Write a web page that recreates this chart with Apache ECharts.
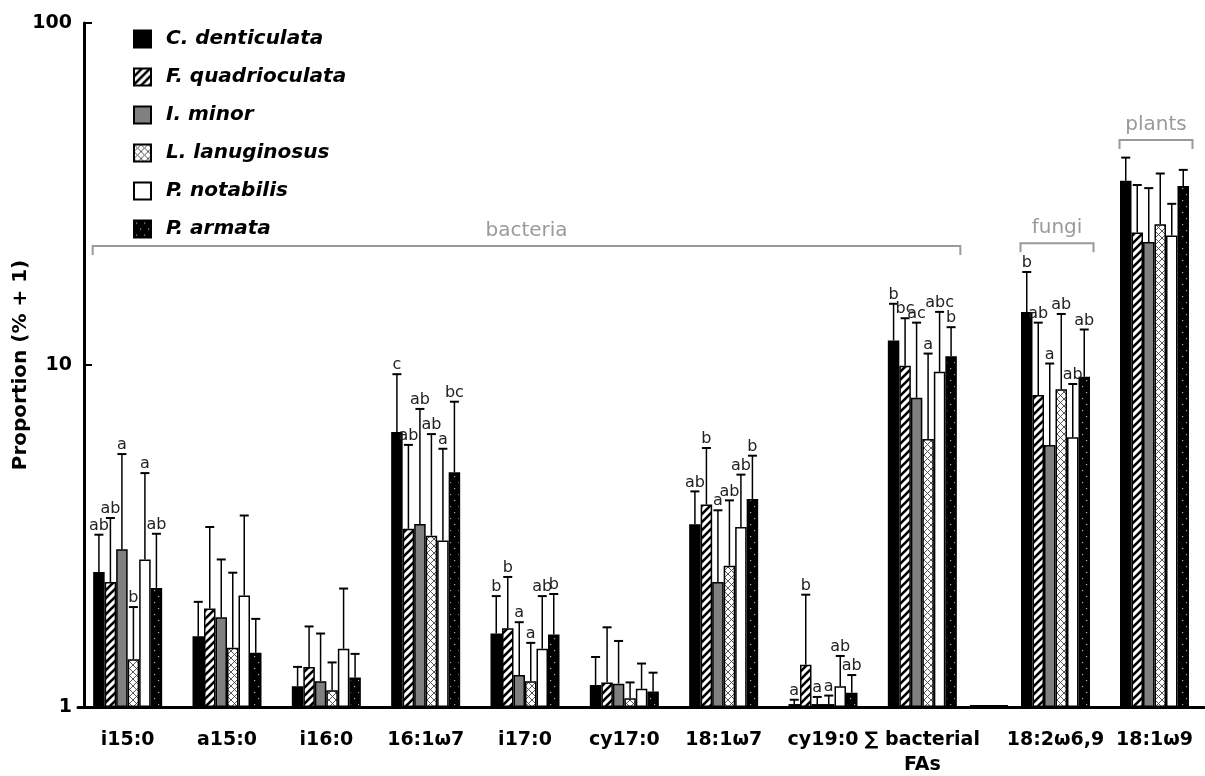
<!DOCTYPE html>
<html>
<head>
<meta charset="utf-8">
<script src="https://cdn.jsdelivr.net/npm/echarts@6/dist/echarts.min.js"></script>
<style>html,body{margin:0;padding:0;background:#fff}#c{width:1205px;height:776px}</style>
</head>
<body>
<div id="c"></div>
<script>
// ---------------- data ----------------
const speciesNames = ['C. denticulata','F. quadrioculata','I. minor','L. lanuginosus','P. notabilis','P. armata'];
const categoriesBacteria = ['i15:0','a15:0','i16:0','16:1ω7','i17:0','cy17:0','18:1ω7','cy19:0','∑ bacterial\nFAs'];
const categoriesOther = ['18:2ω6,9','18:1ω9'];
const yTickLabels = ['1','10','100'];

// mean proportion (% + 1), one list per species, categories in order (9 bacterial + fungi + plants)
const meanCden = [2.48, 1.61, 1.15, 6.37, 1.64, 1.16, 3.42, 1.02, 11.8, 14.3, 34.6];
const meanFqua = [2.32, 1.94, 1.31, 3.32, 1.70, 1.18, 3.91, 1.33, 9.95, 8.17, 24.4];
const meanImin = [2.89, 1.83, 1.19, 3.43, 1.24, 1.17, 2.32, 1.02, 8.02, 5.84, 22.9];
const meanLlan = [1.38, 1.49, 1.12, 3.17, 1.19, 1.06, 2.59, 1.02, 6.08, 8.49, 25.8];
const meanPnot = [2.70, 2.12, 1.48, 3.07, 1.48, 1.13, 3.36, 1.15, 9.55, 6.15, 23.9];
const meanParm = [2.23, 1.44, 1.22, 4.86, 1.63, 1.11, 4.06, 1.10, 10.6, 9.24, 33.4];

// upper end of error bars
const upperCden = [3.19, 2.03, 1.31, 9.40, 2.11, 1.40, 4.27, 1.05, 15.1, 18.7, 40.4];
const upperFqua = [3.57, 3.36, 1.72, 5.84, 2.40, 1.71, 5.72, 2.13, 13.7, 13.3, 33.6];
const upperImin = [5.49, 2.70, 1.64, 7.44, 1.77, 1.56, 3.76, 1.07, 13.3, 10.1, 32.9];
const upperLlan = [1.96, 2.47, 1.35, 6.28, 1.54, 1.18, 4.02, 1.08, 10.8, 14.1, 36.3];
const upperPnot = [4.83, 3.63, 2.22, 5.69, 2.11, 1.34, 4.78, 1.41, 14.3, 8.8, 29.6];
const upperParm = [3.21, 1.81, 1.43, 7.81, 2.14, 1.26, 5.43, 1.24, 12.9, 12.7, 37.2];

// significance letters
const lettersCden = ['ab','','','c','b','','ab','a','b','b',''];
const lettersFqua = ['ab','','','ab','b','','b','b','bc','ab',''];
const lettersImin = ['a','','','ab','a','','a','a','ac','a',''];
const lettersLlan = ['b','','','ab','a','','ab','a','a','ab',''];
const lettersPnot = ['a','','','a','ab','','ab','ab','abc','ab',''];
const lettersParm = ['ab','','','bc','b','','b','ab','b','ab',''];

// group brackets: label, first category, last category, level (y value of bracket)
const groupLabels = ['bacteria','fungi','plants'];
const groupFirst  = [0, 0, 1];
const groupLast   = [8, 0, 1];
const groupLevel  = [22.3, 22.7, 45.5];
const groupGrid   = [0, 1, 1];

// ---------------- styling ----------------
const means = [meanCden, meanFqua, meanImin, meanLlan, meanPnot, meanParm];
const uppers = [upperCden, upperFqua, upperImin, upperLlan, upperPnot, upperParm];
const letters = [lettersCden, lettersFqua, lettersImin, lettersLlan, lettersPnot, lettersParm];
const NB = categoriesBacteria.length;
const BAR_W = 11.5;
const FONT = '"DejaVu Sans", "Liberation Sans", sans-serif';

function makePattern(w, h, draw) {
  const c = document.createElement('canvas');
  c.width = w; c.height = h;
  const ctx = c.getContext('2d');
  draw(ctx, w, h);
  return { image: c, repeat: 'repeat' };
}
const hatch = makePattern(8, 8, (ctx, w, h) => {
  ctx.fillStyle = '#fff'; ctx.fillRect(0, 0, w, h);
  ctx.strokeStyle = '#000'; ctx.lineWidth = 2.6; ctx.lineCap = 'square';
  ctx.beginPath();
  ctx.moveTo(-2, 10); ctx.lineTo(10, -2);
  ctx.moveTo(-6, 6); ctx.lineTo(6, -6);
  ctx.moveTo(2, 14); ctx.lineTo(14, 2);
  ctx.stroke();
});
const cross = makePattern(7, 7, (ctx, w, h) => {
  ctx.fillStyle = '#fff'; ctx.fillRect(0, 0, w, h);
  ctx.strokeStyle = '#444'; ctx.lineWidth = 0.9;
  ctx.beginPath();
  ctx.moveTo(0, 0); ctx.lineTo(w, h);
  ctx.moveTo(w, 0); ctx.lineTo(0, h);
  ctx.stroke();
});
const dots = makePattern(8, 12, (ctx, w, h) => {
  ctx.fillStyle = '#000'; ctx.fillRect(0, 0, w, h);
  ctx.fillStyle = '#aaa';
  ctx.fillRect(2, 2, 1.2, 1.2);
  ctx.fillRect(6, 8, 1.2, 1.2);
});
const fills = ['#000', hatch, '#808080', cross, '#fff', dots];

// ---------------- layout constants ----------------
const TOP = 23, BOTTOM = 69, LEFT_A = 78, RIGHT_A = 972, LEFT_B = 1006, RIGHT_B = 1204;

// ---------------- series ----------------
const series = [];
speciesNames.forEach((name, s) => {
  const st = { color: fills[s], borderColor: '#000', borderWidth: 1.5 };
  series.push({ name, type: 'bar', xAxisIndex: 0, yAxisIndex: 0, barWidth: BAR_W, barGap: '0%',
    itemStyle: st, data: means[s].slice(0, NB), z: 2 });
  series.push({ name, type: 'bar', xAxisIndex: 1, yAxisIndex: 1, barWidth: BAR_W, barGap: '0%',
    itemStyle: st, data: means[s].slice(NB), z: 2 });
});

function errData(from, to) {
  const d = [];
  for (let c = from; c < to; c++)
    for (let s = 0; s < speciesNames.length; s++)
      d.push([c - from, s, means[s][c], uppers[s][c], c]);
  return d;
}
function errRender(params, api) {
  const c = api.value(0), s = api.value(1), m = api.value(2), u = api.value(3), gc = api.value(4);
  const top = api.coord([c, m]);
  const cap = api.coord([c, u]);
  const x = top[0] + (s - 2.5) * BAR_W;
  const children = [
    { type: 'line', shape: { x1: x, y1: top[1], x2: x, y2: cap[1] }, style: { stroke: '#000', lineWidth: 1.5 } },
    { type: 'line', shape: { x1: x - 4.5, y1: cap[1], x2: x + 4.5, y2: cap[1] }, style: { stroke: '#000', lineWidth: 2 } }
  ];
  const L = letters[s][gc];
  if (L) children.push({ type: 'text', style: { text: L, x: x, y: cap[1] - 1, align: 'center', verticalAlign: 'bottom',
    font: '16px ' + FONT, fill: '#222' } });
  return { type: 'group', children };
}
series.push({ type: 'custom', name: 'errA', xAxisIndex: 0, yAxisIndex: 0, z: 5, silent: true,
  renderItem: errRender, data: errData(0, NB), encode: { x: 0, y: 3 } });
series.push({ type: 'custom', name: 'errB', xAxisIndex: 1, yAxisIndex: 1, z: 5, silent: true,
  renderItem: errRender, data: errData(NB, NB + categoriesOther.length), encode: { x: 0, y: 3 } });

function brRender(params, api) {
  const g = api.value(3);
  const a = api.coord([api.value(0), api.value(2)]);
  const b = api.coord([api.value(1), api.value(2)]);
  const x1 = a[0] - 35, x2 = b[0] + 38, y = a[1];
  const children = [
    { type: 'polyline', shape: { points: [[x1, y + 9], [x1, y], [x2, y], [x2, y + 9]] },
      style: { stroke: '#9a9a9a', lineWidth: 2, fill: null } },
    { type: 'text', style: { text: groupLabels[g], x: (x1 + x2) / 2, y: y - 5, align: 'center', verticalAlign: 'bottom',
      font: '20px ' + FONT, fill: '#9a9a9a' } }
  ];
  return { type: 'group', children };
}
[0, 1].forEach(gi => {
  const d = [];
  groupLabels.forEach((lab, g) => { if (groupGrid[g] === gi) d.push([groupFirst[g], groupLast[g], groupLevel[g], g]); });
  series.push({ type: 'custom', name: 'br' + gi, xAxisIndex: gi, yAxisIndex: gi, z: 6, silent: true,
    renderItem: brRender, data: d, encode: { x: 0, y: 2 } });
});

// ---------------- axes ----------------
const xAxisCommon = {
  type: 'category', boundaryGap: true,
  axisLine: { lineStyle: { color: '#000', width: 3 } },
  axisTick: { inside: true, length: 5, lineStyle: { color: '#000', width: 1.5 } },
  axisLabel: { color: '#000', fontFamily: FONT, fontWeight: 'bold', fontSize: 19, margin: 21, lineHeight: 25, interval: 0 }
};
const yAxisCommon = { type: 'log', logBase: 10, min: 1, max: 100, splitLine: { show: false }, minorTick: { show: false } };

const chart = echarts.init(document.getElementById('c'), null, { renderer: 'canvas' });
chart.setOption({
  animation: false,
  backgroundColor: '#fff',
  grid: [
    { left: LEFT_A, top: TOP, bottom: BOTTOM, width: RIGHT_A - LEFT_A, containLabel: false, outerBoundsMode: 'none' },
    { left: LEFT_B, top: TOP, bottom: BOTTOM, width: RIGHT_B - LEFT_B, containLabel: false, outerBoundsMode: 'none' }
  ],
  xAxis: [
    Object.assign({ gridIndex: 0, data: categoriesBacteria }, xAxisCommon),
    Object.assign({ gridIndex: 1, data: categoriesOther }, xAxisCommon)
  ],
  yAxis: [
    Object.assign({ gridIndex: 0, offset: -6,
      name: 'Proportion (% + 1)', nameLocation: 'middle', nameGap: 53, nameMoveOverlap: false,
      nameTextStyle: { color: '#000', fontFamily: FONT, fontWeight: 'bold', fontSize: 20 },
      axisLine: { show: true, lineStyle: { color: '#000', width: 3 } },
      axisTick: { show: true, inside: true, length: 8, lineStyle: { color: '#000', width: 2 } },
      axisLabel: { color: '#000', fontFamily: FONT, fontWeight: 'bold', fontSize: 19, margin: 12,
        formatter: v => { const i = Math.round(Math.log10(v)); return yTickLabels[i] !== undefined ? yTickLabels[i] : ''; } }
    }, yAxisCommon),
    Object.assign({ gridIndex: 1, show: false }, yAxisCommon)
  ],
  legend: {
    data: speciesNames, orient: 'vertical', left: 128, top: 24,
    icon: 'rect', itemWidth: 17, itemHeight: 17, itemGap: 18,
    selectedMode: false,
    textStyle: { color: '#000', fontFamily: FONT, fontStyle: 'italic', fontWeight: 'bold', fontSize: 20, padding: [0, 0, 0, 10] }
  },
  graphic: [{ type: 'rect', z: 100, zlevel: 1, silent: true,
    shape: { x: RIGHT_A - 2, y: 776 - BOTTOM - 2, width: LEFT_B - RIGHT_A + 4, height: 4 },
    style: { fill: '#000', stroke: '#000', lineWidth: 0 } }],
  series
});
</script>
</body>
</html>
